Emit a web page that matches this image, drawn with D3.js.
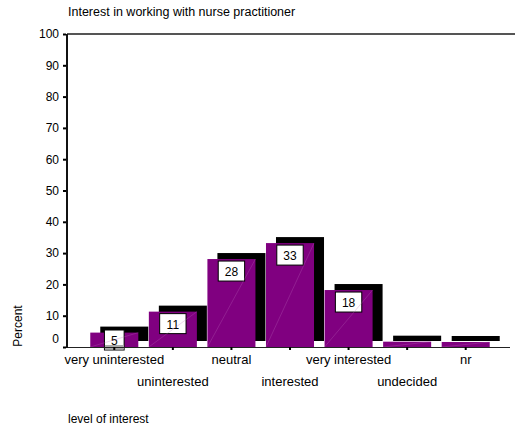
<!DOCTYPE html>
<html>
<head>
<meta charset="utf-8">
<script src="https://cdn.jsdelivr.net/npm/d3@7"></script>
<style>
  html, body { margin: 0; padding: 0; background: #fff; }
  svg { display: block; font-family: "Liberation Sans", Arial, sans-serif; }
</style>
</head>
<body>
<svg id="chart" width="515" height="428"></svg>
<script>
// ---- data ----
const categories = ["very uninterested", "uninterested", "neutral", "interested",
                    "very interested", "undecided", "nr"];
const percents = [4.6, 11.3, 28.1, 33.2, 18.2, 1.7, 1.6];
const valueLabels = ["5", "11", "28", "33", "18", "", ""];
const yTicks = [0, 10, 20, 30, 40, 50, 60, 70, 80, 90, 100];
const title = "Interest in working with nurse practitioner";
const xTitle = "level of interest";
const yTitle = "Percent";

// ---- layout ----
const svg = d3.select("#chart");
const depthX = 10, depthY = -6;
const x = d3.scaleBand().domain(categories).range([85, 495])
  .paddingInner(0.18).paddingOuter(0.09);
const y = d3.scaleLinear().domain([0, 100]).range([347, 34]);
const base = y(0);

// title
svg.append("text").attr("x", 68).attr("y", 16)
  .attr("font-size", 12.5).attr("fill", "#000").text(title);

// top frame line
svg.append("line").attr("x1", 67).attr("x2", 515)
  .attr("y1", y(100)).attr("y2", y(100))
  .attr("stroke", "#555").attr("stroke-width", 2);

// back (depth) bars
const data = categories.map((c, i) => ({ c, v: percents[i], lab: valueLabels[i] }));
svg.append("g").selectAll("rect").data(data).join("rect")
  .attr("x", d => x(d.c) + depthX)
  .attr("y", d => y(d.v) + depthY)
  .attr("width", x.bandwidth())
  .attr("height", d => base - y(d.v))
  .attr("fill", "#000");

// front bars
svg.append("g").selectAll("rect").data(data).join("rect")
  .attr("x", d => x(d.c))
  .attr("y", d => y(d.v))
  .attr("width", x.bandwidth())
  .attr("height", d => base - y(d.v))
  .attr("fill", "#800080");

// value label boxes
const boxH = 20;
const lg = svg.append("g").selectAll("g").data(data.filter(d => d.lab !== "")).join("g");
lg.each(function(d) {
  const g = d3.select(this);
  const w = d.lab.length * 6.7 + 13;
  const cx = x(d.c) + x.bandwidth() / 2;
  const top = Math.min(y(d.v) + 2, base + 3 - boxH);
  g.append("rect").attr("x", cx - w / 2).attr("y", top)
    .attr("width", w).attr("height", boxH)
    .attr("fill", "#fff").attr("stroke", "#000").attr("stroke-width", 1);
  if (top + boxH > base - 1) {
    g.append("rect").attr("x", cx - w / 2 + 0.5).attr("y", base - 2)
      .attr("width", w - 1).attr("height", top + boxH - base + 1.5)
      .attr("fill", "#aaa");
  }
  g.append("text").attr("x", cx).attr("y", top + 15)
    .attr("text-anchor", "middle").attr("font-size", 12).text(d.lab);
});

// diagonal faint edges across front faces
svg.append("g").selectAll("line").data(data).join("line")
  .attr("x1", d => x(d.c)).attr("y1", base)
  .attr("x2", d => x(d.c) + x.bandwidth()).attr("y2", d => y(d.v))
  .attr("stroke", "#c070c0").attr("stroke-width", 0.5).attr("opacity", 0.55);

// x axis
svg.append("line").attr("x1", 67).attr("x2", 510)
  .attr("y1", base + 0.5).attr("y2", base + 0.5)
  .attr("stroke", "#222").attr("stroke-width", 1.2);
svg.append("g").selectAll("rect").data(categories).join("rect")
  .attr("x", d => x(d) + x.bandwidth() / 2 - 1)
  .attr("y", base).attr("width", 2).attr("height", 3).attr("fill", "#000");
svg.append("g").selectAll("text").data(categories).join("text")
  .attr("x", d => x(d) + x.bandwidth() / 2)
  .attr("y", (d, i) => i % 2 === 0 ? 364 : 386)
  .attr("text-anchor", "middle").attr("font-size", 13).text(d => d);

// y axis
const yAxis = d3.axisLeft(y).tickValues(yTicks).tickSize(3).tickPadding(4);
const yg = svg.append("g").attr("transform", "translate(66,0)").call(yAxis);
yg.select(".domain").remove();
yg.selectAll(".tick line").attr("stroke", "#000").attr("stroke-width", 2);
yg.selectAll(".tick text").attr("font-size", 12).attr("font-family", "Liberation Sans, Arial, sans-serif")
  .attr("fill", "#000")
  .attr("dy", d => d === 0 ? "-0.35em" : "0.32em");
svg.append("line").attr("x1", 67).attr("x2", 67)
  .attr("y1", y(100)).attr("y2", base + 1)
  .attr("stroke", "#111").attr("stroke-width", 2);

// axis titles
svg.append("text").attr("x", 68).attr("y", 423).attr("font-size", 12).text(xTitle);
svg.append("text").attr("transform", "translate(22,326) rotate(-90)")
  .attr("text-anchor", "middle").attr("font-size", 12).text(yTitle);
</script>
</body>
</html>
